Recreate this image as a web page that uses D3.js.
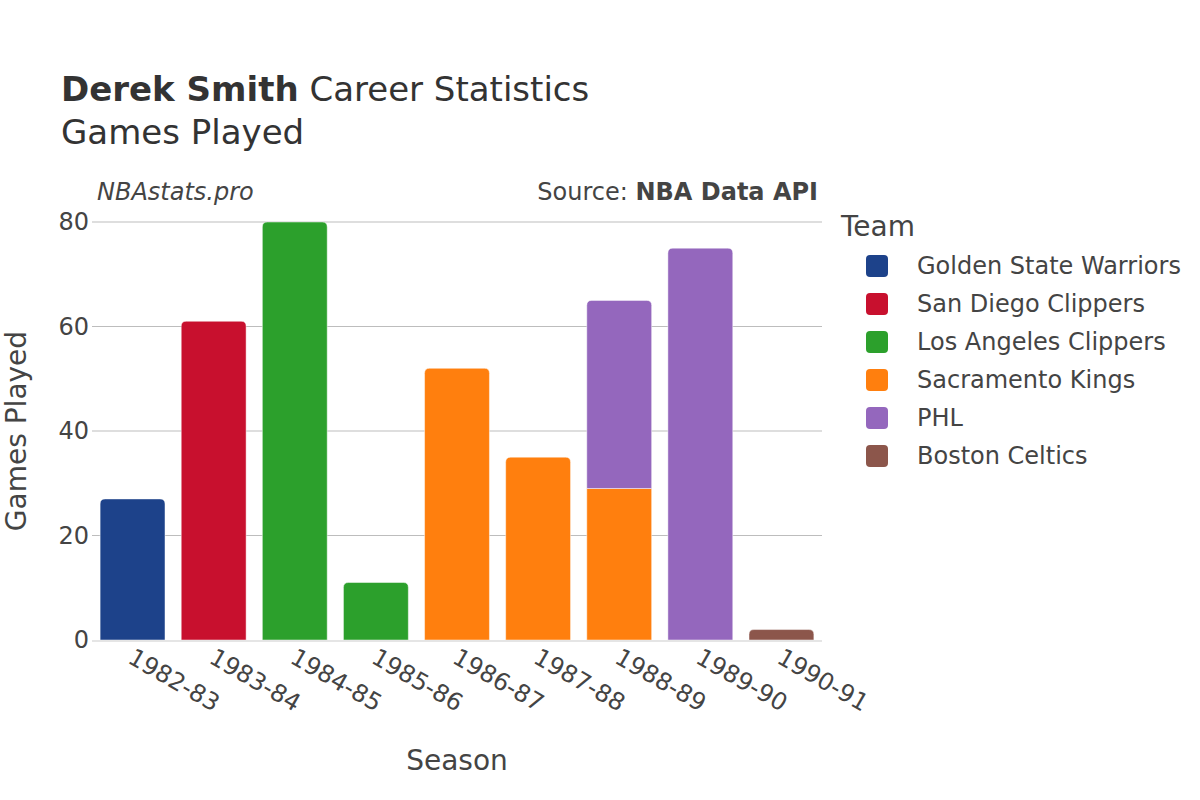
<!DOCTYPE html>
<html><head><meta charset="utf-8">
<script src="https://cdn.jsdelivr.net/npm/d3@7"></script>
<style>body{margin:0;background:#fff;} text{font-family:"DejaVu Sans",sans-serif;}</style>
</head><body>
<svg id="chart" width="1200" height="800"></svg>
<script>
const seasons = ["1982-83","1983-84","1984-85","1985-86","1986-87","1987-88","1988-89","1989-90","1990-91"];
const teams = ["Golden State Warriors","San Diego Clippers","Los Angeles Clippers","Sacramento Kings","PHL","Boston Celtics"];
const teamColors = ["#1d428a","#c8102e","#2ca02c","#ff7f0e","#9467bd","#8c564b"];
// games per season per team (stack order as listed)
const gamesGSW = [27,0,0,0,0,0,0,0,0];
const gamesSDC = [0,61,0,0,0,0,0,0,0];
const gamesLAC = [0,0,80,11,0,0,0,0,0];
const gamesSAC = [0,0,0,0,52,35,29,0,0];
const gamesPHL = [0,0,0,0,0,0,36,75,0];
const gamesBOS = [0,0,0,0,0,0,0,0,2];
const yTicks = [0,20,40,60,80];

const series = [gamesGSW,gamesSDC,gamesLAC,gamesSAC,gamesPHL,gamesBOS];
const svg = d3.select("#chart");
const m = {l:92, r:822, t:222, b:640};
const x = d3.scaleBand().domain(seasons).range([m.l, m.r]).paddingInner(0.2).paddingOuter(0.1);
const y = d3.scaleLinear().domain([0,80]).range([m.b, m.t]);

// grid
svg.append("g").selectAll("line").data(yTicks.filter(d=>d>0)).join("line")
  .attr("x1", m.l).attr("x2", m.r).attr("y1", d=>y(d)).attr("y2", d=>y(d))
  .attr("stroke", "#bdbdbd").attr("stroke-width", 1);

// y axis labels
const yAxis = d3.axisLeft(y).tickValues(yTicks).tickSize(0).tickPadding(3);
const ga = svg.append("g").attr("transform", `translate(${m.l},0)`).call(yAxis);
ga.select(".domain").remove();
ga.selectAll("text").attr("font-size", 24).attr("fill", "#444").style("font-family","DejaVu Sans");

// build stacked rows
const rows = seasons.map((s,i)=>{ const o={season:s}; teams.forEach((t,j)=>o[t]=series[j][i]); return o; });
const stack = d3.stack().keys(teams)(rows);

function topRounded(x0, w, y0, y1, r){
  r = Math.min(r, w/2, (y1-y0));
  return `M${x0},${y1}V${y0+r}Q${x0},${y0} ${x0+r},${y0}H${x0+w-r}Q${x0+w},${y0} ${x0+w},${y0+r}V${y1}Z`;
}

const bars = svg.append("g");
stack.forEach((layer, j)=>{
  layer.forEach((d,i)=>{
    if (d[1]-d[0] <= 0) return;
    const isTop = stack.slice(j+1).every(l=> l[i][1]-l[i][0] <= 0);
    const x0 = x(seasons[i]), w = x.bandwidth();
    const yTop = y(d[1]), yBot = y(d[0]);
    const path = isTop ? topRounded(x0,w,yTop,yBot,5) : `M${x0},${yBot}V${yTop}H${x0+w}V${yBot}Z`;
    bars.append("path").attr("d", path).attr("fill", teamColors[j])
      .attr("stroke", "#fff").attr("stroke-width", 0.8).attr("stroke-opacity", 0.6);
  });
});

// zero line
svg.append("line").attr("x1", m.l).attr("x2", m.r).attr("y1", y(0)+1).attr("y2", y(0)+1)
  .attr("stroke", "#e5e5e5").attr("stroke-width", 2);

// x labels
const xAxis = d3.axisBottom(x).tickSize(0).tickPadding(0);
const gx = svg.append("g").attr("transform", `translate(0,${m.b})`).call(xAxis);
gx.select(".domain").remove();
gx.selectAll("text").attr("font-size", 24).attr("fill", "#444").style("font-family","DejaVu Sans")
  .attr("text-anchor", "start").attr("dy", null).attr("y", 0)
  .attr("transform", "translate(-6,22) rotate(30)");

// titles
const t = svg.append("text").attr("x", 61).attr("y", 101).attr("font-size", 34).attr("fill", "#333");
t.append("tspan").attr("font-weight", "bold").text("Derek Smith");
t.append("tspan").text(" Career Statistics");
svg.append("text").attr("x", 61).attr("y", 144).attr("font-size", 34).attr("fill", "#333").text("Games Played");

svg.append("text").attr("x", 97).attr("y", 200).attr("font-size", 24).attr("font-style", "italic").attr("fill", "#444").text("NBAstats.pro");
const src = svg.append("text").attr("x", 818).attr("y", 200).attr("font-size", 24).attr("text-anchor", "end").attr("fill", "#444");
src.append("tspan").text("Source: ");
src.append("tspan").attr("font-weight", "bold").text("NBA Data API");

svg.append("text").attr("transform", `translate(26,${(m.t+m.b)/2}) rotate(-90)`).attr("text-anchor", "middle")
  .attr("font-size", 28).attr("fill", "#444").text("Games Played");
svg.append("text").attr("x", (m.l+m.r)/2).attr("y", 770).attr("text-anchor", "middle")
  .attr("font-size", 28).attr("fill", "#444").text("Season");

// legend
const lg = svg.append("g");
lg.append("text").attr("x", 841).attr("y", 236).attr("font-size", 28).attr("fill", "#444").text("Team");
teams.forEach((tm,i)=>{
  const cy = 266 + i*38;
  lg.append("rect").attr("x", 866).attr("y", cy-11).attr("width", 22).attr("height", 22).attr("rx", 4)
    .attr("fill", teamColors[i]);
  lg.append("text").attr("x", 917).attr("y", cy+8).attr("font-size", 24).attr("fill", "#444").text(tm);
});
</script>
</body></html>
